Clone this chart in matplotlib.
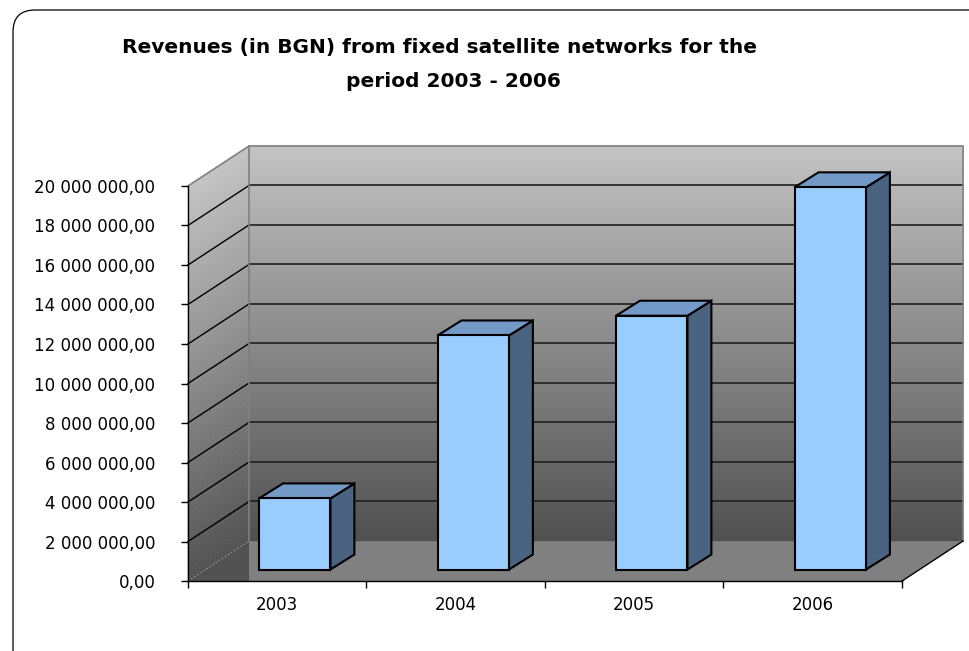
import matplotlib
matplotlib.use("Agg")
import matplotlib.pyplot as plt
from matplotlib.patches import Polygon, FancyBboxPatch
from matplotlib.ticker import FuncFormatter
import numpy as np

# data
years = ["2003", "2004", "2005", "2006"]
revenues = [3600000, 11850000, 12850000, 19350000]
y_ticks = [0, 2000000, 4000000, 6000000, 8000000, 10000000,
           12000000, 14000000, 16000000, 18000000, 20000000]
title_1 = "Revenues (in BGN) from fixed satellite networks for the"
title_2 = "period 2003 - 2006"

plt.rcParams['font.family'] = ['DejaVu Sans']

fig = plt.figure(figsize=(9.7, 6.51), dpi=100)
fig.patch.set_facecolor('white')

# rounded outer frame (runs off the right and bottom edges)
frame = FancyBboxPatch((0.13, -0.4), 9.9, 6.81, boxstyle="round,pad=0,rounding_size=0.22",
                       transform=fig.dpi_scale_trans, facecolor='none',
                       edgecolor='black', linewidth=0.9)
fig.patches.append(frame)

fig.text(0.4536, 0.9186, title_1, ha='center', va='baseline', fontsize=14.5, fontweight='bold')
fig.text(0.467, 0.8664, title_2, ha='center', va='baseline', fontsize=14.5, fontweight='bold')

ax = fig.add_axes([0.1938, 0.1075, 0.9299 - 0.1938, 0.7143 - 0.1075])
ax.set_facecolor('none')
n = len(years)
ymax = y_ticks[-1]
ax.set_xlim(0, n)
ax.set_ylim(0, ymax)

# 3d depth of the chart walls (category units / value units)
Dx = 0.342
Dy = 0.1013 * ymax

def grey(v):
    g = (195 - 115 * (1 - v)) / 255.
    return (g, g, g)

# floor
ax.add_patch(Polygon([(0, 0), (n, 0), (n + Dx, Dy), (Dx, Dy)], closed=True,
                     facecolor='#808080', edgecolor='none', clip_on=False, zorder=0))

# back wall + side wall, gradient as strips
levels = np.linspace(0, ymax, 121)
for a, b in zip(levels[:-1], levels[1:]):
    c = grey((a + b) / 2 / ymax)
    ax.add_patch(Polygon([(Dx, a + Dy), (n + Dx, a + Dy), (n + Dx, b + Dy), (Dx, b + Dy)],
                         closed=True, facecolor=c, edgecolor=c, linewidth=0.3,
                         clip_on=False, zorder=0.1))
    ax.add_patch(Polygon([(0, a), (Dx, a + Dy), (Dx, b + Dy), (0, b)],
                         closed=True, facecolor=c, edgecolor=c, linewidth=0.3,
                         clip_on=False, zorder=0.2))
# side wall covers the floor corner
ax.add_patch(Polygon([(0, 0), (Dx, Dy), (Dx, 0)], closed=True,
                     facecolor=grey(0.02), edgecolor='none', clip_on=False, zorder=0.2))

# gridlines
for t in y_ticks[1:-1]:
    ax.plot([Dx, n + Dx], [t + Dy, t + Dy], color='#202020', lw=1.2, clip_on=False, zorder=0.5)
    ax.plot([0, Dx], [t, t + Dy], color='black', lw=1.0, clip_on=False, zorder=0.5)

# wall edges
ax.plot([0, Dx, n + Dx, n + Dx], [ymax, ymax + Dy, ymax + Dy, Dy], color='#808080',
        lw=1.2, clip_on=False, zorder=0.6)
ax.plot([Dx, Dx], [Dy, ymax + Dy], color='#808080', lw=1.2, clip_on=False, zorder=0.6)
ax.plot([0, Dx], [0, Dy], color='#909090', lw=1.0, ls=':', clip_on=False, zorder=0.6)
ax.plot([n, n + Dx], [0, Dy], color='black', lw=1.0, clip_on=False, zorder=0.6)

# bars
f0 = 0.287
bw = 0.40
ddx = 0.134
ddy = 0.038 * ymax
base = f0 * Dy
for i, v in enumerate(revenues):
    x0 = i + 0.30 + f0 * Dx
    top = base + v
    kw = dict(closed=True, edgecolor='black', linewidth=1.5, joinstyle='miter',
              clip_on=False, zorder=3 + i)
    ax.add_patch(Polygon([(x0 + bw, base), (x0 + bw + ddx, base + ddy),
                          (x0 + bw + ddx, top + ddy), (x0 + bw, top)],
                         facecolor='#4A6380', **kw))
    ax.add_patch(Polygon([(x0, top), (x0 + bw, top), (x0 + bw + ddx, top + ddy),
                          (x0 + ddx, top + ddy)], facecolor='#7399C6', **kw))
    ax.add_patch(Polygon([(x0, base), (x0 + bw, base), (x0 + bw, top), (x0, top)],
                         facecolor='#99CCFF', **kw))

for s in ['top', 'right']:
    ax.spines[s].set_visible(False)
for s in ['left', 'bottom']:
    ax.spines[s].set_linewidth(1.0)
    ax.spines[s].set_zorder(10)

ax.set_yticks(y_ticks)
ax.yaxis.set_major_formatter(FuncFormatter(
    lambda v, p: "{:,.2f}".format(v).replace(",", " ").replace(".", ",")))
ax.tick_params(axis='y', direction='out', length=5, width=1, pad=18.5, labelsize=12)

ax.set_xticks(np.arange(n + 1))
ax.set_xticklabels([])
ax.set_xticks(np.arange(n) + 0.5, minor=True)
ax.set_xticklabels(years, minor=True)
ax.tick_params(axis='x', which='major', direction='out', length=5, width=1)
ax.tick_params(axis='x', which='minor', length=0, pad=11, labelsize=12)

fig.savefig("out.png", dpi=100)
